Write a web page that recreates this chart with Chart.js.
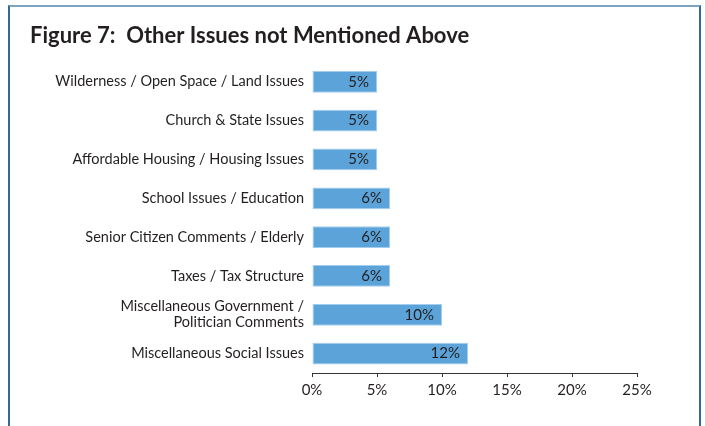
<!DOCTYPE html>
<html>
<head>
<meta charset="utf-8">
<script src="https://cdn.jsdelivr.net/npm/chart.js@4/dist/chart.umd.min.js"></script>
<style>
    html, body {
        margin: 0;
        padding: 0;
        background: #ffffff;
    }
    .frame {
        position: absolute;
        left: 8px;
        top: 5px;
        width: 693px;
        height: 430px;
        border-top: 2px solid #7fa3bf;
        border-left: 2px solid #2f6b98;
        border-right: 2px solid #2f6b98;
        box-sizing: border-box;
    }
    .chart-wrap {
        position: absolute;
        left: 0;
        top: 0;
        width: 705px;
        height: 426px;
    }
</style>
</head>
<body>
<div class="frame"></div>
<div class="chart-wrap"><canvas id="chart-issues"></canvas></div>
<script>
    // Categorias y porcentajes
    const issueLabels = [
        "Wilderness / Open Space / Land Issues",
        "Church & State Issues",
        "Affordable Housing / Housing Issues",
        "School Issues / Education",
        "Senior Citizen Comments / Elderly",
        "Taxes / Tax Structure",
        ["Miscellaneous Government /", "Politician Comments"],
        "Miscellaneous Social Issues",
    ];
    const issueValues = [5, 5, 5, 6, 6, 6, 10, 12];
    const xTicks = [0, 5, 10, 15, 20, 25];

    const fontFamily = "Lato, 'Open Sans', sans-serif";
    const textColor = "#231f20";

    // Etiqueta de valor dentro de cada barra, alineada a la derecha
    const barValueLabels = {
        id: "barValueLabels",
        afterDatasetsDraw(chart) {
            const ctx = chart.ctx;
            const meta = chart.getDatasetMeta(0);
            ctx.save();
            ctx.font = "15px " + fontFamily;
            ctx.fillStyle = textColor;
            ctx.textAlign = "right";
            ctx.textBaseline = "middle";
            meta.data.forEach((bar, i) => {
                ctx.fillText(issueValues[i] + "%", bar.x - 8, bar.y);
            });
            ctx.restore();
        },
    };

    var ctx1 = document.getElementById("chart-issues").getContext("2d");

    new Chart(ctx1, {
        type: "bar",
        data: {
            labels: issueLabels,
            datasets: [
                {
                    data: issueValues,
                    backgroundColor: "#5ba3d9",
                    borderColor: "#a3cdee",
                    borderWidth: 1,
                    borderSkipped: false,
                    categoryPercentage: 0.56,
                    barPercentage: 1.0,
                },
            ],
        },
        options: {
            indexAxis: "y",
            responsive: true,
            maintainAspectRatio: false,
            animation: false,
            layout: {
                padding: { left: 30, right: 68, top: 15, bottom: 23 },
            },
            plugins: {
                legend: { display: false },
                tooltip: { enabled: false },
                title: {
                    display: true,
                    text: "Figure 7:  Other Issues not Mentioned Above",
                    align: "start",
                    color: textColor,
                    font: { size: 22, weight: "bold", family: fontFamily, lineHeight: 1.2 },
                    padding: { top: 8, bottom: 13 },
                },
            },
            scales: {
                x: {
                    min: 0,
                    max: 25,
                    afterBuildTicks: (scale) => {
                        scale.ticks = xTicks.map((v) => ({ value: v }));
                    },
                    afterFit: (scale) => {
                        scale.height = 30;
                    },
                    border: { display: true, color: "#333333", width: 1 },
                    grid: {
                        display: true,
                        drawOnChartArea: false,
                        drawTicks: true,
                        tickLength: 4,
                        color: "#333333",
                    },
                    ticks: {
                        padding: 4,
                        color: textColor,
                        maxRotation: 0,
                        font: { size: 15, family: fontFamily },
                        callback: (v) => v + "%",
                    },
                },
                y: {
                    afterFit: (scale) => {
                        scale.width = 282;
                    },
                    border: { display: false },
                    grid: { display: false },
                    ticks: {
                        padding: 0,
                        color: textColor,
                        font: { size: 14.5, family: fontFamily, lineHeight: 1.1 },
                    },
                },
            },
        },
        plugins: [barValueLabels],
    });
</script>
</body>
</html>
